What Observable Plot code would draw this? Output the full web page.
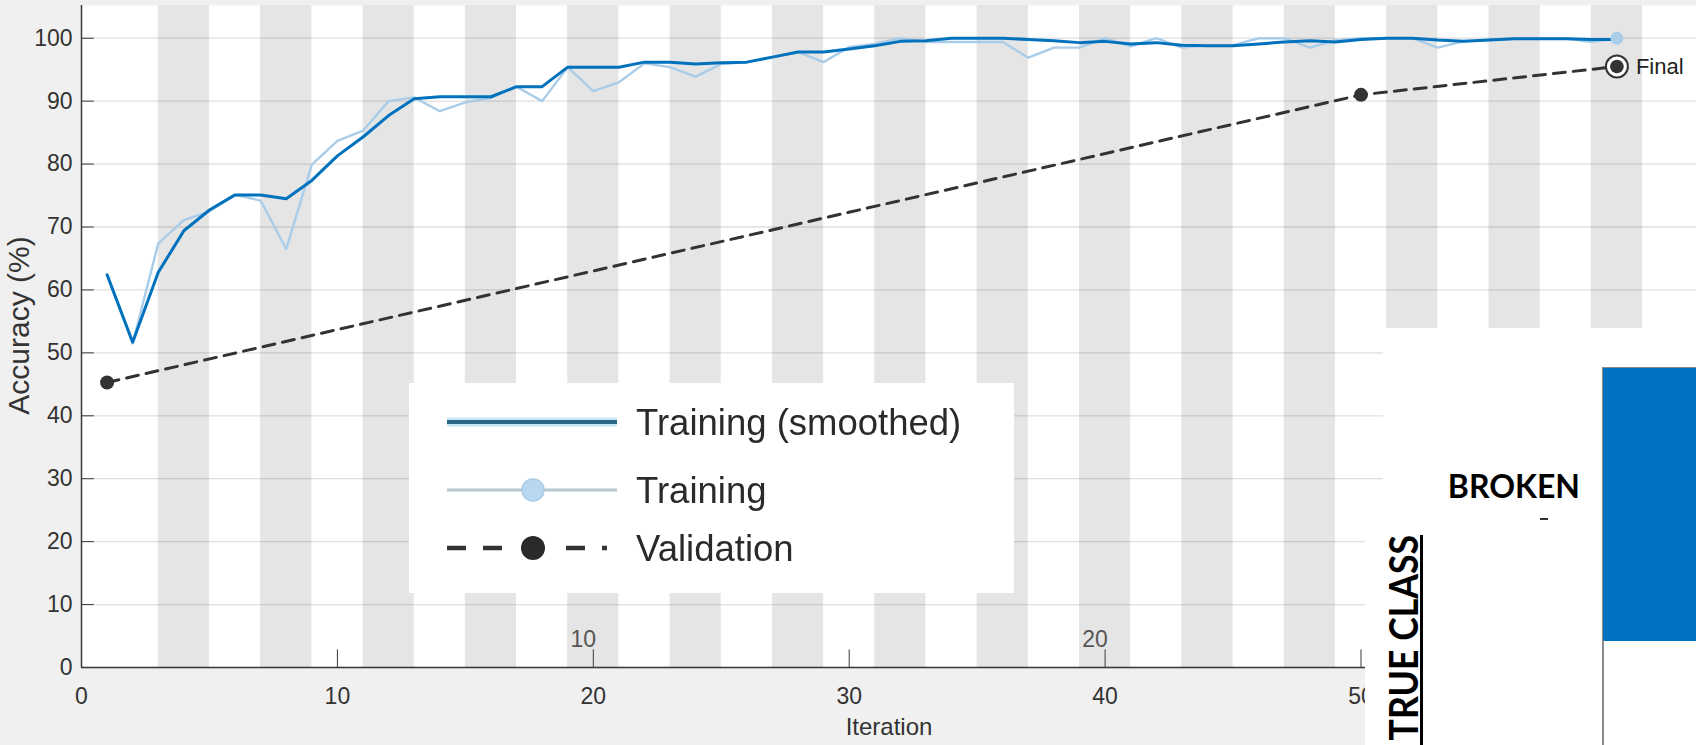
<!DOCTYPE html>
<html><head><meta charset="utf-8">
<script src="https://cdn.jsdelivr.net/npm/d3@7"></script>
<script src="https://cdn.jsdelivr.net/npm/@observablehq/plot@0.6"></script>
<style>
body{margin:0;background:#f0f0f0;}
#wrap{position:relative;width:1696px;height:745px;overflow:hidden;background:#f0f0f0;font-family:"Liberation Sans",Arial,sans-serif;}
#wrap svg{display:block;}
.ov{position:absolute;background:#fff;}
</style></head><body><div id="wrap"></div>
<script>
// ---- data ----
const iterations = [1,2,3,4,5,6,7,8,9,10,11,12,13,14,15,16,17,18,19,20,21,22,23,24,25,26,27,28,29,30,31,32,33,34,35,36,37,38,39,40,41,42,43,44,45,46,47,48,49,50,51,52,53,54,55,56,57,58,59,60];
const trainingSmoothed = [62.4,51.7,62.8,69.4,72.7,75.1,75.1,74.5,77.4,81.3,84.3,87.7,90.4,90.7,90.7,90.7,92.3,92.3,95.4,95.4,95.4,96.2,96.2,95.9,96.1,96.2,97.0,97.8,97.8,98.3,98.8,99.5,99.6,100,100,100,99.8,99.6,99.3,99.5,99.1,99.3,98.9,98.8,98.8,99.1,99.4,99.6,99.4,99.8,100,100,99.7,99.5,99.7,99.9,99.9,99.9,99.8,99.8];
const trainingRaw = [62.4,51.5,67.4,71.1,72.5,75.1,74.2,66.5,79.9,83.7,85.3,90.0,90.6,88.4,89.8,90.5,92.3,90.0,95.4,91.6,93.0,96.0,95.4,93.9,95.9,96.2,97.0,97.8,96.2,98.6,99.1,100,99.4,99.4,99.4,99.4,96.9,98.5,98.5,100,98.7,100,98.5,98.9,98.9,100,100,98.5,99.7,100,100,100,98.5,99.5,99.7,100,100,100,99.4,100];
const validationIter = [1,50,60];
const validationAcc = [45.3,91.0,95.5];
const xTicks = [0,10,20,30,40,50];
const yTicks = [0,10,20,30,40,50,60,70,80,90,100];
const epochBandStarts = [3,7,11,15,19,23,27,31,35,39,43,47,51,55,59];
const epochBandWidth = 2;
const epochLabelIters = [20,40];
const epochLabels = ["10","20"];
const legendLabels = ["Training (smoothed)","Training","Validation"];

// ---- tables ----
const train = iterations.map((it,i)=>({it, raw: trainingRaw[i], smooth: trainingSmoothed[i]}));
const val = validationIter.map((it,i)=>({it, acc: validationAcc[i]}));
const finalVal = val[val.length-1];
const lastTrain = train[train.length-1];

const W = 1696, H = 745;
const ML = 81, MR = 0, MT = 5, MB = 78;
const xMax = (W - ML) / 25.59;
const yMax = 105.2;
const axisColor = "#3a3a3a";
const font = "'Liberation Sans', Arial, sans-serif";

const chart = Plot.plot({
  width: W, height: H,
  marginLeft: ML, marginRight: MR, marginTop: MT, marginBottom: MB,
  x: {domain: [0, xMax]},
  y: {domain: [0, yMax]},
  style: {background: "transparent", fontFamily: font, fontSize: "23px", color: "#333", overflow: "visible"},
  marks: [
    Plot.frame({fill: "white", stroke: null}),
    Plot.rect(epochBandStarts, {x1: d => d, x2: d => d + epochBandWidth, fill: "#e5e5e5"}),
    Plot.ruleY(yTicks, {stroke: "#262626", strokeOpacity: 0.15, strokeWidth: 1.3}),
    Plot.ruleY(yTicks, {x1: 0, x2: 0.5, stroke: axisColor, strokeWidth: 1}),
    Plot.ruleX(xTicks.filter(d => d > 0), {y1: 0, y2: 2.8, stroke: axisColor, strokeWidth: 1}),
    Plot.ruleY([0], {stroke: axisColor, strokeWidth: 1.5}),
    Plot.ruleX([0], {stroke: axisColor, strokeWidth: 1.5}),
    Plot.axisX(xTicks, {tickSize: 0, tickPadding: 20, fontSize: 23, label: null, fill: "#333"}),
    Plot.axisY(yTicks, {tickSize: 0, tickPadding: 9, fontSize: 23, label: null, fill: "#333"}),
    Plot.text(["Iteration"], {frameAnchor: "bottom", dy: 67, fontSize: 24, fill: "#333"}),
    Plot.text(["Accuracy (%)"], {frameAnchor: "left", textAnchor: "middle", rotate: -90, dx: -62, dy: -11, fontSize: 30, fill: "#333"}),
    Plot.text(epochLabelIters, {x: d => d, y: 0, text: (d, i) => epochLabels[i], dx: -10, dy: -28, fontSize: 23, fill: "#555"}),
    Plot.line(train, {x: "it", y: "raw", stroke: "#a9cde9", strokeWidth: 2.4}),
    Plot.line(train, {x: "it", y: "smooth", stroke: "#0072bd", strokeWidth: 3}),
    Plot.dot([lastTrain], {x: "it", y: "raw", r: 6.5, fill: "#a9cde9", stroke: null}),
    Plot.line(val, {x: "it", y: "acc", stroke: "#333", strokeWidth: 3, strokeDasharray: "12,8"}),
    Plot.dot(val.slice(0, -1), {x: "it", y: "acc", r: 7, fill: "#333", stroke: null}),
    Plot.dot([finalVal], {x: "it", y: "acc", r: 11, fill: "white", stroke: "#333", strokeWidth: 2}),
    Plot.dot([finalVal], {x: "it", y: "acc", r: 6.8, fill: "#333", stroke: null}),
    Plot.text([finalVal], {x: "it", y: "acc", text: () => "Final", dx: 19, textAnchor: "start", fontSize: 22, fill: "#222"})
  ]
});
const wrap = document.getElementById("wrap");
wrap.appendChild(chart);

// ---- pasted legend panel ----
const leg = document.createElement("div");
leg.className = "ov";
Object.assign(leg.style, {left: "409px", top: "383px", width: "605px", height: "210px"});
const ns = "http://www.w3.org/2000/svg";
const ls = document.createElementNS(ns, "svg");
ls.setAttribute("width", 605); ls.setAttribute("height", 210);
ls.style.filter = "blur(0.7px)";
const rows = [39, 107, 165];
let html = "";
html += `<line x1="38" x2="208" y1="${rows[0]}" y2="${rows[0]}" stroke="#c6e6f5" stroke-width="9"/>`;
html += `<line x1="38" x2="208" y1="${rows[0]}" y2="${rows[0]}" stroke="#2d6688" stroke-width="4"/>`;
html += `<line x1="38" x2="208" y1="${rows[1]}" y2="${rows[1]}" stroke="#b7c8d3" stroke-width="3.2"/>`;
html += `<circle cx="124" cy="${rows[1]}" r="11" fill="#b9d8ef" stroke="#a8cbe6" stroke-width="1.5"/>`;
[[38,57],[74,93],[157,176],[193,198]].forEach(([a,b]) => { html += `<line x1="${a}" x2="${b}" y1="${rows[2]}" y2="${rows[2]}" stroke="#333" stroke-width="4.5"/>`; });
html += `<circle cx="124" cy="${rows[2]}" r="12" fill="#2a2a2a"/>`;
legendLabels.forEach((t, i) => { html += `<text x="227" y="${rows[i]}" dy="0.36em" font-size="36.5" fill="#2a2a2a" font-family="${font.replace(/'/g, "")}">${t}</text>`; });
ls.innerHTML = html;
leg.appendChild(ls);
wrap.appendChild(leg);

// ---- pasted confusion-matrix fragment ----
function box(l, t, w, h, extra) { const d = document.createElement("div"); d.className = "ov"; Object.assign(d.style, {left: l + "px", top: t + "px", width: w + "px", height: h + "px"}, extra || {}); wrap.appendChild(d); return d; }
box(1383, 328, 313, 417);
box(1365, 510, 331, 235);
box(1540, 518, 8, 2, {background: "#333"});
box(1602, 367, 94, 273, {background: "#0070c0", borderLeft: "1px solid #8a8a8a", borderTop: "1px solid #8a8a8a"});
box(1602, 640, 1.5, 105, {background: "#8a8a8a"});
box(1420, 535, 2.5, 210, {background: "#000"});
const bk = box(1380, 466, 200, 40, {background: "transparent", textAlign: "right", font: "bold 32px Lato, 'Open Sans', sans-serif", color: "#000", lineHeight: "40px"});
bk.textContent = "BROKEN";
const tc = box(0, 0, 300, 44, {background: "transparent", font: "bold 40px Lato, 'Open Sans', sans-serif", color: "#000", lineHeight: "44px", textAlign: "right", whiteSpace: "nowrap", transform: "translate(1381px, 802px) rotate(-90deg) scale(0.89, 1)"});
tc.style.transformOrigin = "0 0";
tc.textContent = "TRUE CLASS";
</script>
</body></html>
